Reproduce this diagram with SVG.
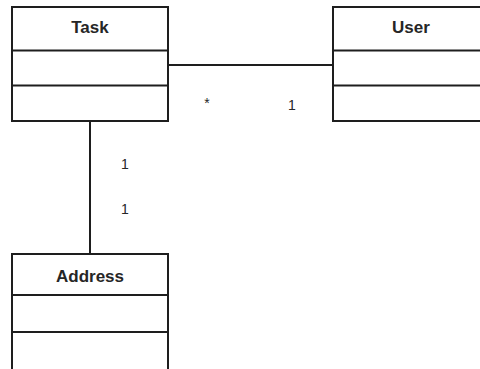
<svg xmlns="http://www.w3.org/2000/svg" width="480" height="369" viewBox="0 0 480 369">
<style>
.box{fill:#fff;stroke:#1e1e1e;stroke-width:2}
.div{stroke:#1e1e1e;stroke-width:2}
.title{font-family:"Liberation Sans",Arial,sans-serif;font-size:17px;font-weight:bold;fill:#262626;text-anchor:middle}
.lbl{font-family:"Liberation Sans",Arial,sans-serif;font-size:14px;fill:#262626;text-anchor:middle}
.conn{stroke:#1e1e1e;stroke-width:2;fill:none}
</style>
<rect width="480" height="369" fill="#fff"/>
<g id="connectors">
<line class="conn" x1="168" y1="65" x2="332" y2="65"/>
<line class="conn" x1="90" y1="121" x2="90" y2="254"/>
</g>
<g id="task">
<rect class="box" x="12" y="7" width="156" height="114"/>
<line class="div" x1="12" y1="50.5" x2="168" y2="50.5"/>
<line class="div" x1="12" y1="85.5" x2="168" y2="85.5"/>
<text class="title" x="90" y="33">Task</text>
</g>
<g id="user">
<rect class="box" x="333" y="7" width="156" height="114"/>
<line class="div" x1="333" y1="50.5" x2="489" y2="50.5"/>
<line class="div" x1="333" y1="85.5" x2="489" y2="85.5"/>
<text class="title" x="411" y="33">User</text>
</g>
<g id="address">
<rect class="box" x="12" y="254" width="156" height="120"/>
<line class="div" x1="12" y1="295" x2="168" y2="295"/>
<line class="div" x1="12" y1="332" x2="168" y2="332"/>
<text class="title" x="90" y="282">Address</text>
</g>
<g id="labels">
<text class="lbl" x="207" y="108">*</text>
<text class="lbl" x="292" y="110">1</text>
<text class="lbl" x="125" y="169">1</text>
<text class="lbl" x="125" y="214">1</text>
</g>
</svg>
